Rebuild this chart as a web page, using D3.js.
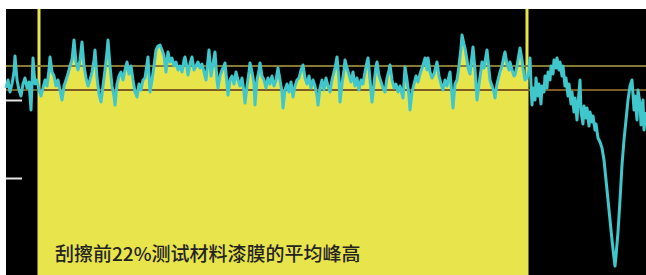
<!DOCTYPE html>
<html>
<head>
<meta charset="utf-8">
<script src="https://cdn.jsdelivr.net/npm/d3@7"></script>
<style>
  html, body { margin: 0; padding: 0; background: #fff; }
  svg { display: block; }
</style>
</head>
<body>
<svg id="chart" width="646" height="275"></svg>
<script>
// profile trace, position along the scan (µm) and height (arbitrary units)
var profileX = [0,2,4,6,8,9,11,13,15,17,19,21,23,25,27,29,31,33,35,37,39,41,43,44,46,48,50,52,54,56,58,60,62,64,66,68,70,72,74,76,78,80,82,84,86,88,89,91,93,95,97,99,101,102,104,106,108,109,111,113,115,117,119,121,123,125,127,129,131,133,135,137,139,141,142,144,146,148,150,152,154,156,158,160,162,164,166,168,170,172,174,176,178,179,181,182,184,186,188,190,192,194,196,198,200,202,203,205,207,209,211,212,214,216,218,219,221,222,224,226,228,230,232,234,236,238,239,241,243,244,246,248,249,251,253,254,256,258,260,262,264,266,268,270,272,274,276,277,279,281,283,285,287,289,291,293,295,297,299,301,303,305,307,309,311,312,314,316,318,320,322,324,326,328,329,331,333,334,336,338,339,341,343,345,347,349,351,353,355,357,359,361,362,364,366,368,370,371,373,375,377,379,381,383,384,386,388,390,392,394,396,397,399,401,403,404,406,408,410,412,414,416,418,419,421,422,424,426,428,430,431,433,435,437,439,441,443,444,446,447,449,451,453,455,456,458,459,461,462,464,466,467,469,471,473,475,476,478,480,481,483,484,486,488,489,491,493,494,496,498,499,501,503,504,506,508,509,511,513,514,516,517,519,521,523,524,525,
  526,527,529,530,532,533,535,536,538,539,541,542,544,545,547,548,550,551,553,554,556,557,559,560,562,563,565,566,568,569,571,572,574,575,577,578,580,581,583,584,586,587,589,590,592,594,596,598,600,602,604,606,608,609,610,612,614,616,618,620,622,624,626,628,629,631,632,634,635,637,638,640];
var profileH = [187,195,183,191,203,219,195,185,179,191,197,187,193,165,217,191,195,185,179,187,195,189,205,218,203,199,189,195,185,175,189,195,201,209,215,235,213,205,215,233,209,197,189,195,203,215,225,197,181,173,189,205,223,235,209,189,179,170,191,199,203,195,205,213,201,209,195,183,178,191,185,195,197,211,218,183,195,209,225,229,230,225,219,203,223,213,217,209,213,205,209,203,215,218,207,200,211,218,205,209,213,207,211,203,195,215,225,199,211,223,195,187,199,205,209,212,191,180,195,199,191,203,195,189,197,183,172,189,203,212,203,191,170,195,205,212,199,195,187,197,191,199,189,195,207,195,183,167,185,191,183,193,178,189,195,197,205,210,197,191,199,187,195,189,179,170,187,195,185,197,189,183,195,203,207,218,195,173,191,205,215,207,200,193,203,189,197,185,195,191,203,213,217,195,173,191,209,213,199,193,187,183,197,205,210,195,187,191,183,189,181,177,208,195,179,165,183,191,199,193,201,207,213,217,205,217,203,197,201,209,213,199,191,185,195,189,199,203,179,167,191,195,209,227,240,231,227,215,207,201,219,228,205,175,191,205,213,207,219,225,205,195,189,183,177,191,199,203,209,219,223,211,205,213,205,199,200,209,221,227,215,207,195,197,205,217,191,
  170,187,175,197,179,191,171,189,183,199,187,203,195,209,201,215,207,217,205,213,199,209,189,197,179,191,171,183,163,177,155,171,195,163,151,169,157,167,149,163,153,159,145,151,137,133,127,115,95,75,55,35,17,9,19,43,75,110,135,155,175,189,195,165,179,155,185,171,150,175,145,163];

// measurement window (start, end) along the scan
var windowBounds = [33, 521];
// the two horizontal reference levels (upper, lower)
var refLevels = [209, 185];
var refColors = ["#877a32", "#7c5c22"];
// left axis ticks
var tickValues = [175, 97];
var caption = "刮擦前22%测试材料漆膜的平均峰高";

var svg = d3.select("#chart");
var W = 646, H = 275;
var plotLeft = 6, plotTop = 9;

var x = d3.scaleLinear().domain([0, 640]).range([plotLeft, W]);
var y = d3.scaleLinear().domain([0, 266]).range([H, plotTop]);

// black plot background
svg.append("rect")
  .attr("x", plotLeft).attr("y", plotTop)
  .attr("width", W - plotLeft).attr("height", H - plotTop)
  .attr("fill", "#000");

var profile = profileX.map(function(d, i) { return { x: d, h: profileH[i] }; });

// yellow area under the trace, only inside the window
svg.append("clipPath").attr("id", "win")
  .append("rect")
  .attr("x", x(windowBounds[0])).attr("y", plotTop)
  .attr("width", x(windowBounds[1]) - x(windowBounds[0]))
  .attr("height", H - plotTop);

var area = d3.area()
  .x(function(d) { return x(d.x); })
  .y0(H)
  .y1(function(d) { return y(d.h); });

svg.append("path")
  .datum(profile)
  .attr("clip-path", "url(#win)")
  .attr("fill", "#e8e44c")
  .attr("d", area);

// window edges
svg.selectAll("line.edge")
  .data(windowBounds)
  .enter().append("line")
  .attr("class", "edge")
  .attr("x1", function(d) { return x(d); })
  .attr("x2", function(d) { return x(d); })
  .attr("y1", plotTop).attr("y2", H)
  .attr("stroke", "#e8e44c")
  .attr("stroke-width", 3);

// reference levels
svg.selectAll("line.ref")
  .data(refLevels)
  .enter().append("line")
  .attr("class", "ref")
  .attr("x1", plotLeft).attr("x2", W)
  .attr("y1", function(d) { return y(d); })
  .attr("y2", function(d) { return y(d); })
  .attr("stroke", function(d, i) { return refColors[i]; })
  .attr("stroke-width", 2);

// the profile trace
var line = d3.line()
  .x(function(d) { return x(d.x); })
  .y(function(d) { return y(d.h); });

svg.append("path")
  .datum(profile)
  .attr("fill", "none")
  .attr("stroke", "#3fc7cc")
  .attr("stroke-width", 3)
  .attr("stroke-linejoin", "round")
  .attr("d", line);

// left ticks, no labels
var axis = svg.append("g")
  .attr("transform", "translate(" + plotLeft + ",0)")
  .call(d3.axisRight(y).tickValues(tickValues).tickSize(16).tickFormat(""));
axis.select(".domain").remove();
axis.selectAll(".tick line").attr("stroke", "#e6e6e6").attr("stroke-width", 2);

// caption
svg.append("text")
  .attr("x", 55).attr("y", 261)
  .attr("font-family", "'Noto Sans CJK SC', 'Noto Sans', sans-serif")
  .attr("font-size", 19)
  .attr("font-weight", 500)
  .attr("fill", "#232323")
  .text(caption);
</script>
</body>
</html>
